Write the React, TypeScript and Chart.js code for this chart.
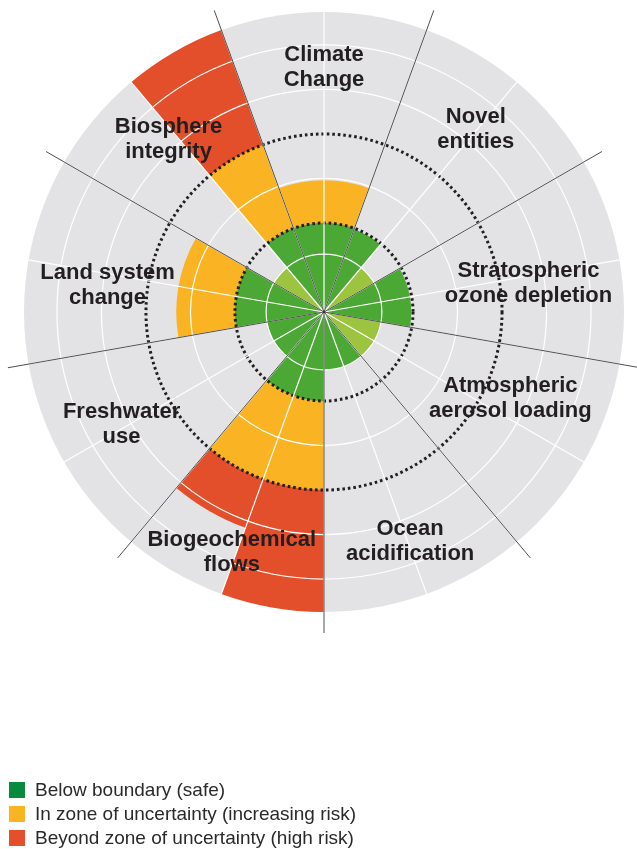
import React, { useEffect, useRef } from "react";
import { Chart, registerables } from "chart.js";

Chart.register(...registerables);

// Nine planetary boundaries, clockwise from the top
const BOUNDARY_LABELS: string[][] = [
  ["Climate", "Change"],
  ["Novel", "entities"],
  ["Stratospheric", "ozone depletion"],
  ["Atmospheric", "aerosol loading"],
  ["Ocean", "acidification"],
  ["Biogeochemical", "flows"],
  ["Freshwater", "use"],
  ["Land system", "change"],
  ["Biosphere", "integrity"],
];

// Two sub-indicators per boundary, clockwise from the top (starting at -20°)
const SUB_INDICATORS = [
  "Climate change (CO2)", "Climate change (forcing)",
  "Novel entities (a)", "Novel entities (b)",
  "Ozone (a)", "Ozone (b)",
  "Aerosols (a)", "Aerosols (b)",
  "Ocean acidification (a)", "Ocean acidification (b)",
  "Phosphorus", "Nitrogen",
  "Freshwater (a)", "Freshwater (b)",
  "Land system (a)", "Land system (b)",
  "Functional diversity", "Genetic diversity",
];

// Control variable, normalised so that 1 = boundary, 2 = end of zone of uncertainty
const CONTROL_VALUES = [
  1.48, 1.48,
  0.99, 0.65,
  0.98, 0.98,
  0.65, 0.65,
  0.65, 0.65,
  3.37, 2.58,
  0.65, 0.65,
  1.66, 1.66,
  0.65, 3.37,
];

// false = drawn in the lighter green
const FULLY_QUANTIFIED = [
  true, true,
  true, false,
  true, true,
  false, false,
  true, true,
  true, true,
  true, true,
  true, true,
  false, true,
];

const BOUNDARY = 1;
const UNCERTAINTY_LIMIT = 2;
const SCALE_MAX = 3.37;
const RING_VALUES = [0, 0.65, 1, 1.5, 2, 2.5, 3];

const LEGEND_LABELS = [
  "Below boundary (safe)",
  "In zone of uncertainty (increasing risk)",
  "Beyond zone of uncertainty (high risk)",
];

// label anchor: [angle in degrees clockwise from north, radius in scale units]
const LABEL_ANCHORS: [number, number][] = [
  [0, 2.75],
  [39.7, 2.67],
  [82, 2.32],
  [115, 2.31],
  [159.4, 2.75],
  [201, 2.89],
  [241, 2.6],
  [277, 2.45],
  [318, 2.61],
];

const GRAY = "#e3e3e5";
const GREEN = "#4ba835";
const LIGHT_GREEN = "#9cc43e";
const ORANGE = "#f9b323";
const RED = "#e34f2a";
const DOT = "#231f20";
const LEGEND_COLORS = ["#078a3d", "#f9b323", "#e4502b"];

const greenData = CONTROL_VALUES.map((v) => Math.min(v, BOUNDARY));
const orangeData = CONTROL_VALUES.map((v) => (v > BOUNDARY ? Math.min(v, UNCERTAINTY_LIMIT) : 0));
const redData = CONTROL_VALUES.map((v) => (v > UNCERTAINTY_LIMIT ? v : 0));
const greenColors = FULLY_QUANTIFIED.map((q) => (q ? GREEN : LIGHT_GREEN));

const isDotted = (v: number | undefined) => v === BOUNDARY || v === UNCERTAINTY_LIMIT;

const overlayPlugin = {
  id: "pbOverlay",
  beforeDatasetsDraw(chart: any) {
    const s = chart.scales.r;
    const ctx = chart.ctx as CanvasRenderingContext2D;
    ctx.save();
    ctx.beginPath();
    ctx.arc(s.xCenter, s.yCenter, s.getDistanceFromCenterForValue(SCALE_MAX), 0, Math.PI * 2);
    ctx.fillStyle = GRAY;
    ctx.fill();
    ctx.restore();
  },
  afterDraw(chart: any) {
    const s = chart.scales.r;
    const ctx = chart.ctx as CanvasRenderingContext2D;
    const outer = s.getDistanceFromCenterForValue(SCALE_MAX) * 1.07;
    ctx.save();
    ctx.strokeStyle = "#222";
    ctx.lineWidth = 0.8;
    for (let i = 0; i < SUB_INDICATORS.length; i += 2) {
      const a = s.getIndexAngle(i) - Math.PI / 2;
      ctx.beginPath();
      ctx.moveTo(s.xCenter, s.yCenter);
      ctx.lineTo(s.xCenter + outer * Math.cos(a), s.yCenter + outer * Math.sin(a));
      ctx.stroke();
    }
    ctx.fillStyle = "#231f20";
    ctx.font = 'bold 22px "Liberation Sans", Arial, Helvetica, sans-serif';
    ctx.textAlign = "center";
    ctx.textBaseline = "middle";
    BOUNDARY_LABELS.forEach((lines, k) => {
      const [deg, rv] = LABEL_ANCHORS[k];
      const r = s.getDistanceFromCenterForValue(rv);
      const t = (deg * Math.PI) / 180;
      const cx = s.xCenter + r * Math.sin(t);
      const cy = s.yCenter - r * Math.cos(t);
      const lh = 25;
      lines.forEach((ln, j) => {
        ctx.fillText(ln, cx, cy + (j - (lines.length - 1) / 2) * lh);
      });
    });
    ctx.restore();
  },
};

export default function App() {
  const ref = useRef<HTMLCanvasElement | null>(null);
  useEffect(() => {
    if (!ref.current) return;
    const chart = new Chart(ref.current, {
      type: "polarArea",
      data: {
        labels: SUB_INDICATORS,
        datasets: [
          { label: LEGEND_LABELS[0], data: greenData, backgroundColor: greenColors, borderWidth: 0 },
          { label: LEGEND_LABELS[1], data: orangeData, backgroundColor: ORANGE, borderWidth: 0 },
          { label: LEGEND_LABELS[2], data: redData, backgroundColor: RED, borderWidth: 0 },
        ],
      },
      options: {
        responsive: false,
        animation: false,
        layout: { padding: { left: 24, right: 13, top: 12, bottom: 237 } },
        plugins: { legend: { display: false }, tooltip: { enabled: false } },
        scales: {
          r: {
            min: 0,
            max: SCALE_MAX,
            startAngle: -20,
            afterBuildTicks: (scale: any) => {
              scale.ticks = RING_VALUES.map((v) => ({ value: v }));
            },
            ticks: { display: false },
            pointLabels: { display: false },
            grid: {
              z: 1,
              circular: true,
              color: (c: any) => (isDotted(c.tick && c.tick.value) ? DOT : "#ffffff"),
              lineWidth: (c: any) => (isDotted(c.tick && c.tick.value) ? 3 : 1.2),
            },
            border: {
              display: false,
              dash: (c: any) => (isDotted(c.tick && c.tick.value) ? [2.6, 2.9] : []),
            },
            angleLines: { display: true, color: "#ffffff", lineWidth: 1.2 },
          },
        },
      } as any,
      plugins: [overlayPlugin],
    });
    return () => chart.destroy();
  }, []);

  return (
    <div style={{ position: "absolute", left: 0, top: 0, width: 637, height: 849, background: "#fff" }}>
      <canvas ref={ref} width={637} height={849} style={{ display: "block" }} />
      {LEGEND_LABELS.map((t, i) => (
        <div
          key={t}
          style={{
            position: "absolute",
            left: 9,
            top: 778 + i * 24,
            height: 24,
            display: "flex",
            alignItems: "center",
            font: '19px "Liberation Sans", Arial, Helvetica, sans-serif',
            color: "#2a2a2a",
            whiteSpace: "nowrap",
          }}
        >
          <span style={{ display: "inline-block", width: 16, height: 16, background: LEGEND_COLORS[i], marginRight: 10 }} />
          {t}
        </div>
      ))}
    </div>
  );
}
